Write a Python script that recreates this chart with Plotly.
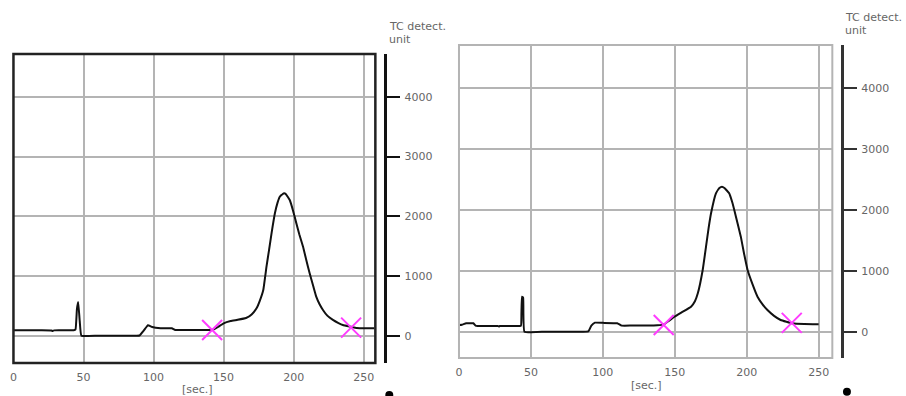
import plotly.graph_objects as go

W, H = 906, 396

# ---------------- data ----------------
left_t = [0, 10, 20, 27, 28, 29, 35, 43, 44.3, 45.3, 46.2, 47.3, 48.5, 60, 80, 90, 93, 96, 99, 105, 113,
          115.5, 125, 135, 142, 146, 150, 155, 160, 166, 170, 173.5, 176, 178.3, 180.6, 182.5, 184.2,
          186.6, 188.5, 190.1, 192, 193.2, 194.5, 197.2, 199.5, 201.9, 204, 206.7, 209, 211.4, 214,
          216.1, 218.5, 220.9, 224, 228, 232, 235.1, 241, 245, 250, 257.6]
left_v = [95, 95, 95, 92, 82, 94, 95, 97, 110, 450, 570, 250, 5, 3, 3, 8, 90, 180, 150, 130, 128,
          100, 100, 100, 100, 150, 212, 250, 270, 300, 360, 463, 600, 769, 1159, 1450, 1717,
          2052, 2230, 2329, 2370, 2385, 2370, 2274, 2100, 1885, 1700, 1493, 1270, 1048, 830,
          657, 530, 435, 340, 268, 215, 184, 155, 135, 128, 128]

right_t = [0, 2, 5, 10, 11.5, 13, 20, 27, 27.7, 28.5, 35, 43, 43.4, 43.8, 44.6, 45.5, 60, 80, 89.9,
           92, 94.5, 100, 110, 113, 120, 130, 138, 142.5, 146, 149.8, 155, 161.3, 164, 166, 169.4,
           171.7, 173.5, 175.2, 178.6, 181, 182.8, 184.5, 187.8, 190, 192.5, 195.9, 198, 200.6,
           204, 207.5, 211, 214.4, 219, 223.6, 231.7, 240, 250]
right_v = [110, 115, 138, 138, 100, 94, 94, 94, 85, 94, 95, 97, 300, 575, 560, 0, 0, 0, 5,
           100, 148, 145, 138, 100, 100, 100, 105, 120, 180, 246, 320, 410, 500, 630, 1013,
           1396, 1700, 1944, 2272, 2360, 2381, 2360, 2272, 2120, 1888, 1560, 1300, 1013,
           780, 575, 450, 356, 260, 192, 138, 125, 121]

left_marks_t = [141.8, 241.0]
left_marks_v = [100, 140]
right_marks_t = [142.3, 231.3]
right_marks_v = [110, 145]

x_ticks = [0, 50, 100, 150, 200, 250]
y_ticks = [0, 1000, 2000, 3000, 4000]
y_title = ["TC detect.", "unit"]
x_title = "[sec.]"

# ---------------- layout helpers ----------------
def px(x):
    return x / W

def py(y):
    return 1 - y / H

FONT = "DejaVu Sans"
TXT = "#666666"
GRID = "#b4b4b4"
MAG = "#ff3cff"

L_XR, L_YR = [0, 258.3], [-452, 4716]
R_XR, R_YR = [0, 259.5], [-432, 4707]
L_YD = [py(363), py(54)]
R_YD = [py(358), py(45)]

fig = go.Figure()

# curves on the grid axes (y, y2), markers on the labelled free axes (y3, y4) with identical ranges
fig.add_trace(go.Scatter(x=left_t, y=left_v, mode="lines",
                         line=dict(color="#111", width=2, shape="spline", smoothing=0.3),
                         xaxis="x", yaxis="y", showlegend=False))
fig.add_trace(go.Scatter(x=left_marks_t, y=left_marks_v, mode="markers",
                         marker=dict(symbol="x-thin", size=20, line=dict(color=MAG, width=2)),
                         xaxis="x", yaxis="y3", showlegend=False))
fig.add_trace(go.Scatter(x=right_t, y=right_v, mode="lines",
                         line=dict(color="#111", width=2, shape="spline", smoothing=0.3),
                         xaxis="x2", yaxis="y2", showlegend=False))
fig.add_trace(go.Scatter(x=right_marks_t, y=right_marks_v, mode="markers",
                         marker=dict(symbol="x-thin", size=20, line=dict(color=MAG, width=2)),
                         xaxis="x2", yaxis="y4", showlegend=False))

xcommon = dict(tickvals=x_ticks, showgrid=True, gridcolor=GRID, gridwidth=2, zeroline=False,
               showline=False, ticks="", tickfont=dict(family=FONT, size=11, color=TXT),
               ticklabelstandoff=6, fixedrange=True)
# hidden grid axes bound to the plot box
gcommon = dict(tickvals=y_ticks, showgrid=True, gridcolor=GRID, gridwidth=2, zeroline=False,
               showline=False, ticks="", showticklabels=False, fixedrange=True)
# visible right-hand value axes (free position, no grid)
ycommon = dict(tickvals=y_ticks, showgrid=False, zeroline=False,
               showline=True, linewidth=3, ticks="outside", ticklen=13, tickwidth=2,
               side="right", anchor="free", tickfont=dict(family=FONT, size=11, color=TXT),
               ticklabelstandoff=2, fixedrange=True)

fig.update_layout(
    width=W, height=H,
    margin=dict(l=0, r=0, t=0, b=0),
    paper_bgcolor="white", plot_bgcolor="white",
    xaxis=dict(domain=[px(9.5), px(373)], range=L_XR, anchor="y", **xcommon),
    yaxis=dict(domain=L_YD, range=L_YR, anchor="x", **gcommon),
    yaxis3=dict(domain=L_YD, range=L_YR, overlaying="y", position=px(383),
                linecolor="#111", tickcolor="#111", **ycommon),
    xaxis2=dict(domain=[px(457), px(832)], range=R_XR, anchor="y2", **xcommon),
    yaxis2=dict(domain=R_YD, range=R_YR, anchor="x2", **gcommon),
    yaxis4=dict(domain=R_YD, range=R_YR, overlaying="y2", position=px(841.7),
                linecolor="#333", tickcolor="#333", **ycommon),
    shapes=[
        dict(type="rect", xref="x domain", yref="y domain", x0=0, x1=1, y0=0, y1=1,
             line=dict(color="#222", width=2.5)),
        dict(type="rect", xref="x2 domain", yref="y2 domain", x0=0, x1=1, y0=0, y1=1,
             line=dict(color=GRID, width=2)),
        dict(type="circle", xref="paper", yref="paper", x0=px(383), x1=px(391),
             y0=py(399), y1=py(391), fillcolor="#000", line=dict(width=0)),
        dict(type="circle", xref="paper", yref="paper", x0=px(842.7), x1=px(850.7),
             y0=py(395.7), y1=py(387.7), fillcolor="#000", line=dict(width=0)),
    ],
    annotations=[
        dict(text=y_title[0], x=px(385), y=py(27), xref="paper", yref="paper", xanchor="left",
             yanchor="middle", showarrow=False, font=dict(family=FONT, size=11, color=TXT)),
        dict(text=y_title[1], x=px(385), y=py(39), xref="paper", yref="paper", xanchor="left",
             yanchor="middle", showarrow=False, font=dict(family=FONT, size=11, color=TXT)),
        dict(text=y_title[0], x=px(842.7), y=py(18), xref="paper", yref="paper", xanchor="left",
             yanchor="middle", showarrow=False, font=dict(family=FONT, size=11, color=TXT)),
        dict(text=y_title[1], x=px(842.7), y=py(30), xref="paper", yref="paper", xanchor="left",
             yanchor="middle", showarrow=False, font=dict(family=FONT, size=11, color=TXT)),
        dict(text=x_title, x=px(194), y=py(389), xref="paper", yref="paper", xanchor="center",
             yanchor="middle", showarrow=False, font=dict(family=FONT, size=11, color=TXT)),
        dict(text=x_title, x=px(645.7), y=py(385), xref="paper", yref="paper", xanchor="center",
             yanchor="middle", showarrow=False, font=dict(family=FONT, size=11, color=TXT)),
    ],
)

fig.write_html("out.html")
